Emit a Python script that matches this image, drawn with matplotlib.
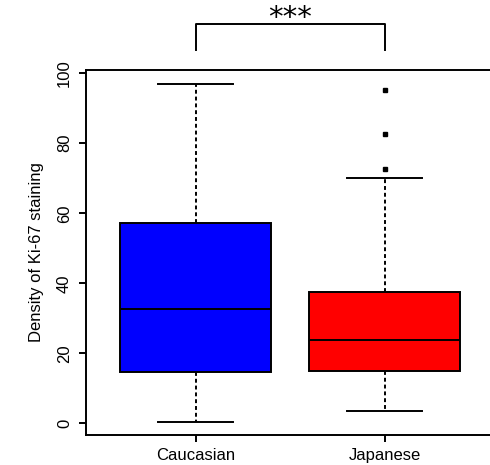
import matplotlib
matplotlib.use('Agg')
import matplotlib.pyplot as plt

plt.rcParams['font.family'] = ['Liberation Sans', 'DejaVu Sans']

# box statistics
groups = ['Caucasian', 'Japanese']
whis_lo = [0.5, 3.5]
q1 = [14.8, 14.9]
medians = [32.6, 23.7]
q3 = [57.1, 37.6]
whis_hi = [97.0, 70.1]
outliers = [[], [72.6, 82.5, 95.1]]
colors = ['#0000ff', '#ff0000']
yticks = [0, 20, 40, 60, 80, 100]
signif = '***'

fig = plt.figure(figsize=(4.9, 4.65), dpi=100)
# right edge of the frame runs past the picture, as in the reference
ax = fig.add_axes([0.1755, 0.0645, 0.833, 0.785])

stats = []
for i in range(len(groups)):
    stats.append(dict(label=groups[i], whislo=whis_lo[i], q1=q1[i], med=medians[i],
                      q3=q3[i], whishi=whis_hi[i], fliers=outliers[i]))

lw = 1.4
bp = ax.bxp(stats, positions=[1, 2], widths=0.8, patch_artist=True,
            boxprops=dict(linewidth=lw, edgecolor='black'),
            medianprops=dict(color='black', linewidth=lw),
            whiskerprops=dict(color='black', linewidth=lw, linestyle=(0, (2, 1.5))),
            capprops=dict(color='black', linewidth=lw),
            capwidths=0.4,
            flierprops=dict(marker='s', markersize=3.5, markerfacecolor='black',
                            markeredgecolor='black', linestyle='none'))
for patch, c in zip(bp['boxes'], colors):
    patch.set_facecolor(c)

ax.set_xlim(0.42, 2.58)
ax.set_ylim(-3.3, 100.9)
ax.set_yticks(yticks)
ax.set_yticklabels([str(t) for t in yticks], rotation=90, va='center', fontsize=12)
ax.set_xticks([1, 2])
ax.set_xticklabels(groups, fontsize=12)
ax.tick_params(length=5, width=lw, color='black', pad=4)
ax.tick_params(axis='y', pad=5)
for s in ax.spines.values():
    s.set_linewidth(lw)
ax.set_ylabel('Density of Ki-67 staining', fontsize=12, labelpad=9.5)

# significance bracket above the plot
ax.plot([1, 1, 2, 2], [106.5, 114, 114, 106.5], color='black', linewidth=lw,
        clip_on=False)
ax.text(1.5, 113.4, signif, ha='center', va='baseline', fontsize=21,
        family='DejaVu Sans')

fig.savefig('out.png', dpi=100)
